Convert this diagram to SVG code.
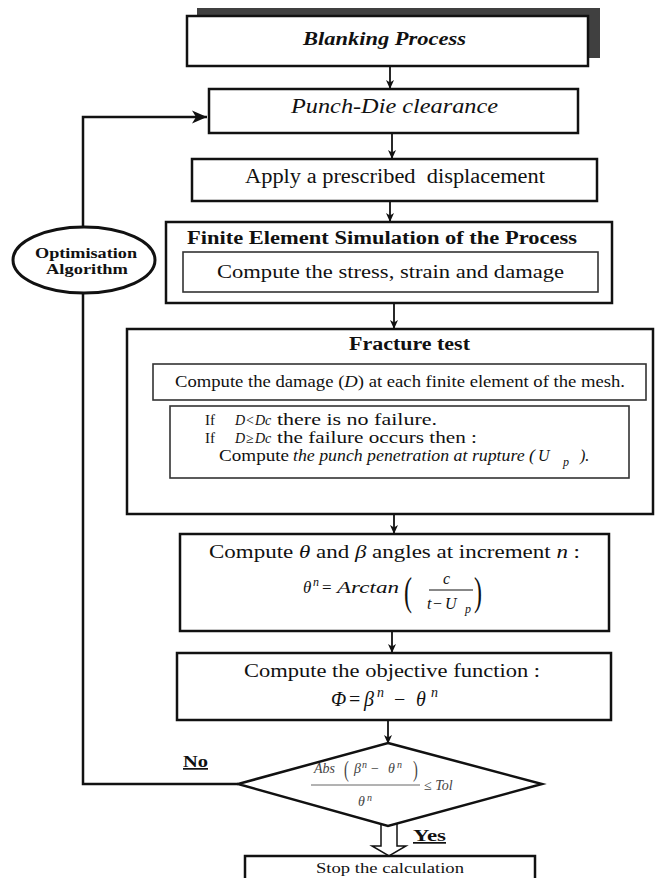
<svg xmlns="http://www.w3.org/2000/svg" width="656" height="878" viewBox="0 0 656 878">
<defs>
<marker id="ah" markerWidth="10" markerHeight="10" refX="9" refY="5" orient="auto" markerUnits="userSpaceOnUse">
<path d="M0,1 L9,5 L0,9 L2.5,5 Z" fill="#111"/>
</marker>
<marker id="ahb" markerWidth="16" markerHeight="14" refX="15" refY="7" orient="auto" markerUnits="userSpaceOnUse">
<path d="M0,0.5 L15,7 L0,13.5 L4,7 Z" fill="#111"/>
</marker>
</defs>
<style>
text { font-family: "Liberation Serif", "Times New Roman", serif; fill: #111; }
.box { fill: #fff; stroke: #111; stroke-width: 2.5; }
.inner { fill: #fff; stroke: #333; stroke-width: 1.6; }
.con { fill: none; stroke: #111; stroke-width: 1.8; }
.loop { fill: none; stroke: #111; stroke-width: 2.5; }
.it { font-style: italic; }
.b { font-weight: bold; }
.gr { fill: #444; }
</style>

<g id="connectors">
<line class="con" x1="390" y1="66" x2="390" y2="89" marker-end="url(#ah)"/>
<line class="con" x1="392" y1="133" x2="392" y2="159" marker-end="url(#ah)"/>
<line class="con" x1="390" y1="201" x2="390" y2="222" marker-end="url(#ah)"/>
<line class="con" x1="394" y1="303" x2="394" y2="329" marker-end="url(#ah)"/>
<line class="con" x1="394" y1="514" x2="394" y2="534" marker-end="url(#ah)"/>
<line class="con" x1="392" y1="631" x2="392" y2="653" marker-end="url(#ah)"/>
<line class="con" x1="388" y1="720" x2="388" y2="744" marker-end="url(#ah)"/>
<path class="loop" d="M238,784 H83 V293"/>
<path class="loop" d="M83,227 V117 H207" marker-end="url(#ahb)"/>
<path d="M381,822 V846 H372 L389,856 L406,846 H397 V822" fill="#fff" stroke="#111" stroke-width="1.5"/>
</g>

<g id="blanking">
<rect x="197" y="8" width="403" height="50" fill="#404040"/>
<rect class="box" x="187" y="16" width="401" height="50" stroke-width="2"/>
<text x="303" y="45" font-size="18" class="b it" textLength="163" lengthAdjust="spacingAndGlyphs">Blanking Process</text>
</g>

<g id="punchdie">
<rect class="box" x="209" y="89" width="369" height="44" stroke-width="2"/>
<text x="291" y="113" font-size="20" class="it" textLength="207" lengthAdjust="spacingAndGlyphs">Punch-Die clearance</text>
</g>

<g id="apply">
<rect class="box" x="192" y="159" width="405" height="42" stroke-width="2"/>
<text x="245" y="183" font-size="20" style="white-space:pre" textLength="300" lengthAdjust="spacingAndGlyphs">Apply a prescribed  displacement</text>
</g>

<g id="fe">
<rect class="box" x="166" y="222" width="446" height="81" stroke-width="3"/>
<text x="187" y="244" font-size="18" class="b" textLength="390" lengthAdjust="spacingAndGlyphs">Finite Element Simulation of the Process</text>
<rect class="inner" x="183" y="252" width="415" height="40"/>
<text x="217" y="278" font-size="19" textLength="347" lengthAdjust="spacingAndGlyphs">Compute the stress, strain and damage</text>
</g>

<g id="optim">
<ellipse cx="84" cy="260" rx="71" ry="33" fill="#fff" stroke="#111" stroke-width="3"/>
<text x="35" y="258" font-size="15" class="b" textLength="102" lengthAdjust="spacingAndGlyphs">Optimisation</text>
<text x="46" y="274" font-size="15" class="b" textLength="82" lengthAdjust="spacingAndGlyphs">Algorithm</text>
</g>

<g id="fracture">
<rect class="box" x="127" y="329" width="526" height="185"/>
<text x="349" y="350" font-size="18" class="b" textLength="121" lengthAdjust="spacingAndGlyphs">Fracture test</text>
<rect class="inner" x="153" y="364" width="493" height="36"/>
<text x="175" y="387" font-size="16" textLength="450" lengthAdjust="spacingAndGlyphs">Compute the damage (<tspan class="it">D</tspan>) at each finite element of the mesh.</text>
<rect class="inner" x="170" y="406" width="459" height="72"/>
<text y="425" font-size="14"><tspan x="205" font-size="15">If</tspan><tspan x="235" class="it">D</tspan><tspan x="246">&lt;</tspan><tspan x="255" class="it">Dc</tspan></text>
<text x="277" y="425" font-size="16" textLength="160" lengthAdjust="spacingAndGlyphs">there is no failure.</text>
<text y="443" font-size="14"><tspan x="205" font-size="15">If</tspan><tspan x="235" class="it">D</tspan><tspan x="246">≥</tspan><tspan x="255" class="it">Dc</tspan></text>
<text x="277" y="443" font-size="16" textLength="200" lengthAdjust="spacingAndGlyphs">the failure occurs then :</text>
<text x="219" y="461" font-size="16" textLength="70" lengthAdjust="spacingAndGlyphs">Compute</text>
<text x="293" y="461" font-size="16" class="it" textLength="242" lengthAdjust="spacingAndGlyphs">the punch penetration at rupture (</text>
<text x="538" y="461" font-size="16" class="it">U</text>
<text x="563" y="466" font-size="12" class="it">p</text>
<text x="580" y="461" font-size="16" class="it">).</text>
</g>

<g id="angles">
<rect class="box" x="180" y="534" width="429" height="97"/>
<text x="209" y="558" font-size="19" textLength="371" lengthAdjust="spacingAndGlyphs">Compute <tspan class="it">θ</tspan> and <tspan class="it">β</tspan> angles at increment <tspan class="it">n</tspan> :</text>
<text x="303" y="593" font-size="17" class="it">θ</text>
<text x="313" y="586" font-size="12" class="it">n</text>
<text x="322" y="593" font-size="17">=</text>
<text x="337" y="593" font-size="17" class="it" textLength="62" lengthAdjust="spacingAndGlyphs">Arctan</text>
<text transform="translate(404,605) scale(0.6,1)" font-size="40">(</text>
<text x="443" y="584" font-size="16" class="it">c</text>
<line x1="429" y1="590" x2="473" y2="590" stroke="#111" stroke-width="1"/>
<text x="427" y="609" font-size="16" class="it">t</text>
<text x="433" y="609" font-size="16">−</text>
<text x="445" y="609" font-size="16" class="it">U</text>
<text x="465" y="613" font-size="12" class="it">p</text>
<text transform="translate(474,605) scale(0.6,1)" font-size="40">)</text>
</g>

<g id="objective">
<rect class="box" x="177" y="653" width="434" height="67"/>
<text x="244" y="677" font-size="19" textLength="296" lengthAdjust="spacingAndGlyphs">Compute the objective function :</text>
<text x="331" y="706" font-size="20" class="it">Φ</text>
<text x="349" y="706" font-size="20">=</text>
<text x="364" y="706" font-size="20" class="it">β</text>
<text x="377" y="697" font-size="14" class="it">n</text>
<text x="394" y="706" font-size="20">−</text>
<text x="416" y="706" font-size="20" class="it">θ</text>
<text x="431" y="697" font-size="14" class="it">n</text>
</g>

<g id="decision">
<polygon points="388,743 542,784 388,826 238,784" fill="#fff" stroke="#111" stroke-width="2.5"/>
<text x="314" y="773" font-size="14" class="it gr">Abs</text>
<text transform="translate(344,777) scale(0.6,1)" font-size="24" class="gr">(</text>
<text x="354" y="773" font-size="14" class="it gr">β</text>
<text x="362" y="768" font-size="10" class="it gr">n</text>
<text x="371" y="773" font-size="14" class="gr">−</text>
<text x="388" y="773" font-size="14" class="it gr">θ</text>
<text x="397" y="768" font-size="10" class="it gr">n</text>
<text transform="translate(413,777) scale(0.6,1)" font-size="24" class="gr">)</text>
<line x1="311" y1="785" x2="420" y2="785" stroke="#666" stroke-width="1"/>
<text x="358" y="806" font-size="14" class="it gr">θ</text>
<text x="367" y="801" font-size="10" class="it gr">n</text>
<text x="424" y="790" font-size="14" class="it gr">≤ Tol</text>
</g>

<g id="labels">
<text x="183" y="767" font-size="17" class="b" text-decoration="underline" textLength="25" lengthAdjust="spacingAndGlyphs">No</text>
<text x="413" y="841" font-size="17" class="b" text-decoration="underline" textLength="33" lengthAdjust="spacingAndGlyphs">Yes</text>
</g>

<g id="stop">
<rect class="box" x="245" y="856" width="290" height="40" stroke-width="2"/>
<text x="316" y="873" font-size="15" textLength="148" lengthAdjust="spacingAndGlyphs">Stop the calculation</text>
</g>
</svg>
